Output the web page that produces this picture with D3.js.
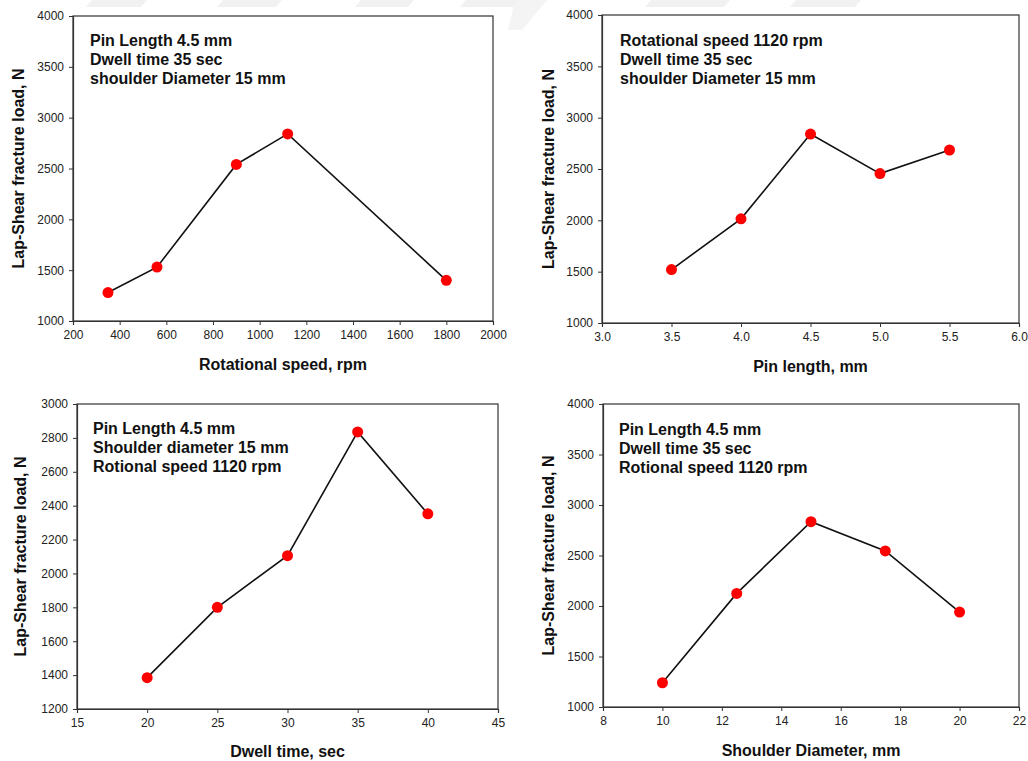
<!DOCTYPE html>
<html>
<head>
<meta charset="utf-8">
<script src="https://cdn.jsdelivr.net/npm/d3@7"></script>
<style>
  html, body { margin: 0; padding: 0; background: #fff; }
  svg { display: block; font-family: "Liberation Sans", Arial, sans-serif; }
</style>
</head>
<body>
<svg id="chart" width="1028" height="761"></svg>
<script>
// ---- Data ----
const speedX = [350, 560, 900, 1120, 1800];
const speedY = [1280, 1530, 2540, 2840, 1400];
const speedTicks = [200, 400, 600, 800, 1000, 1200, 1400, 1600, 1800, 2000];
const speedNote = ["Pin Length 4.5 mm", "Dwell time 35 sec", "shoulder Diameter 15 mm"];

const pinX = [3.5, 4.0, 4.5, 5.0, 5.5];
const pinY = [1520, 2015, 2840, 2455, 2685];
const pinTicks = [3.0, 3.5, 4.0, 4.5, 5.0, 5.5, 6.0];
const pinNote = ["Rotational speed 1120 rpm", "Dwell time 35 sec", "shoulder Diameter 15 mm"];

const dwellX = [20, 25, 30, 35, 40];
const dwellY = [1385, 1800, 2105, 2835, 2352];
const dwellTicks = [15, 20, 25, 30, 35, 40, 45];
const dwellNote = ["Pin Length 4.5 mm", "Shoulder diameter 15 mm", "Rotional speed 1120 rpm"];

const shoulderX = [10, 12.5, 15, 17.5, 20];
const shoulderY = [1240, 2125, 2835, 2545, 1940];
const shoulderTicks = [8, 10, 12, 14, 16, 18, 20, 22];
const shoulderNote = ["Pin Length 4.5 mm", "Dwell time 35 sec", "Rotional speed 1120 rpm"];

const loadTicks4000 = [1000, 1500, 2000, 2500, 3000, 3500, 4000];
const loadTicks3000 = [1200, 1400, 1600, 1800, 2000, 2200, 2400, 2600, 2800, 3000];

const yTitle = "Lap-Shear fracture load, N";

const panels = [
  { xs: speedX, ys: speedY, xt: speedTicks, yt: loadTicks4000, note: speedNote,
    xTitle: "Rotational speed, rpm", fmt: d3.format("d"),
    box: { l: 73, r: 493, t: 16, b: 321 }, xTitleY: 370, yTitleX: 18, noteX: 90, noteY: 46 },
  { xs: pinX, ys: pinY, xt: pinTicks, yt: loadTicks4000, note: pinNote,
    xTitle: "Pin length, mm", fmt: d3.format(".1f"),
    box: { l: 602, r: 1019, t: 15, b: 323 }, xTitleY: 372, yTitleX: 548, noteX: 620, noteY: 46 },
  { xs: dwellX, ys: dwellY, xt: dwellTicks, yt: loadTicks3000, note: dwellNote,
    xTitle: "Dwell time, sec", fmt: d3.format("d"),
    box: { l: 77, r: 498, t: 404, b: 709 }, xTitleY: 757, yTitleX: 20, noteX: 93, noteY: 434 },
  { xs: shoulderX, ys: shoulderY, xt: shoulderTicks, yt: loadTicks4000, note: shoulderNote,
    xTitle: "Shoulder Diameter, mm", fmt: d3.format("d"),
    box: { l: 603, r: 1019, t: 404, b: 707 }, xTitleY: 756, yTitleX: 548, noteX: 619, noteY: 435 }
];

const svg = d3.select("#chart");

// faint watermark shapes at the top
const wm = [[86,141],[217,276],[355,408],[460,520],[645,724],[790,855]];
svg.append("g").selectAll("path").data(wm).join("path")
  .attr("d", d => `M${d[0]+6},0 L${d[1]+6},0 L${d[1]},7 L${d[0]},7 Z`)
  .attr("fill", "#f1f1f1");
svg.append("path").attr("d", "M515,0 L547,0 L522,30 L508,30 Z").attr("fill", "#f4f4f4");

panels.forEach(p => {
  const b = p.box;
  const x = d3.scaleLinear().domain(d3.extent(p.xt)).range([b.l, b.r]);
  const y = d3.scaleLinear().domain(d3.extent(p.yt)).range([b.b, b.t]);
  const g = svg.append("g");

  // frame
  g.append("rect").attr("x", b.l).attr("y", b.t)
    .attr("width", b.r - b.l).attr("height", b.b - b.t)
    .attr("fill", "none").attr("stroke", "#333").attr("stroke-width", 1.2);

  const xa = g.append("g").attr("transform", `translate(0,${b.b})`)
    .call(d3.axisBottom(x).tickValues(p.xt).tickFormat(p.fmt).tickSize(4).tickPadding(5));
  const ya = g.append("g").attr("transform", `translate(${b.l},0)`)
    .call(d3.axisLeft(y).tickValues(p.yt).tickFormat(d3.format("d")).tickSize(4).tickPadding(5));
  [xa, ya].forEach(a => {
    a.select(".domain").attr("stroke", "#333").attr("stroke-width", 1.2);
    a.selectAll(".tick line").attr("stroke", "#333").attr("stroke-width", 1);
    a.selectAll(".tick text").attr("font-size", 12).attr("fill", "#222")
      .attr("font-family", "'Liberation Sans', Arial, sans-serif");
  });

  // line + markers
  const pts = p.xs.map((v, i) => [v, p.ys[i]]);
  g.append("path").datum(pts)
    .attr("d", d3.line().x(d => x(d[0])).y(d => y(d[1])))
    .attr("fill", "none").attr("stroke", "#111").attr("stroke-width", 1.6);
  g.selectAll("circle").data(pts).join("circle")
    .attr("cx", d => x(d[0])).attr("cy", d => y(d[1])).attr("r", 5.5)
    .attr("fill", "#ff0000");

  // annotation
  g.append("g").selectAll("text").data(p.note).join("text")
    .attr("x", p.noteX).attr("y", (d, i) => p.noteY + i * 19)
    .attr("font-size", 16).attr("font-weight", "bold").attr("fill", "#111")
    .text(d => d);

  // axis titles
  g.append("text").attr("x", (b.l + b.r) / 2).attr("y", p.xTitleY)
    .attr("text-anchor", "middle").attr("font-size", 16).attr("font-weight", "bold")
    .attr("fill", "#111").text(p.xTitle);
  g.append("text")
    .attr("transform", `translate(${p.yTitleX + 6},${(b.t + b.b) / 2}) rotate(-90)`)
    .attr("text-anchor", "middle").attr("font-size", 16).attr("font-weight", "bold")
    .attr("fill", "#111").text(yTitle);
});
</script>
</body>
</html>
